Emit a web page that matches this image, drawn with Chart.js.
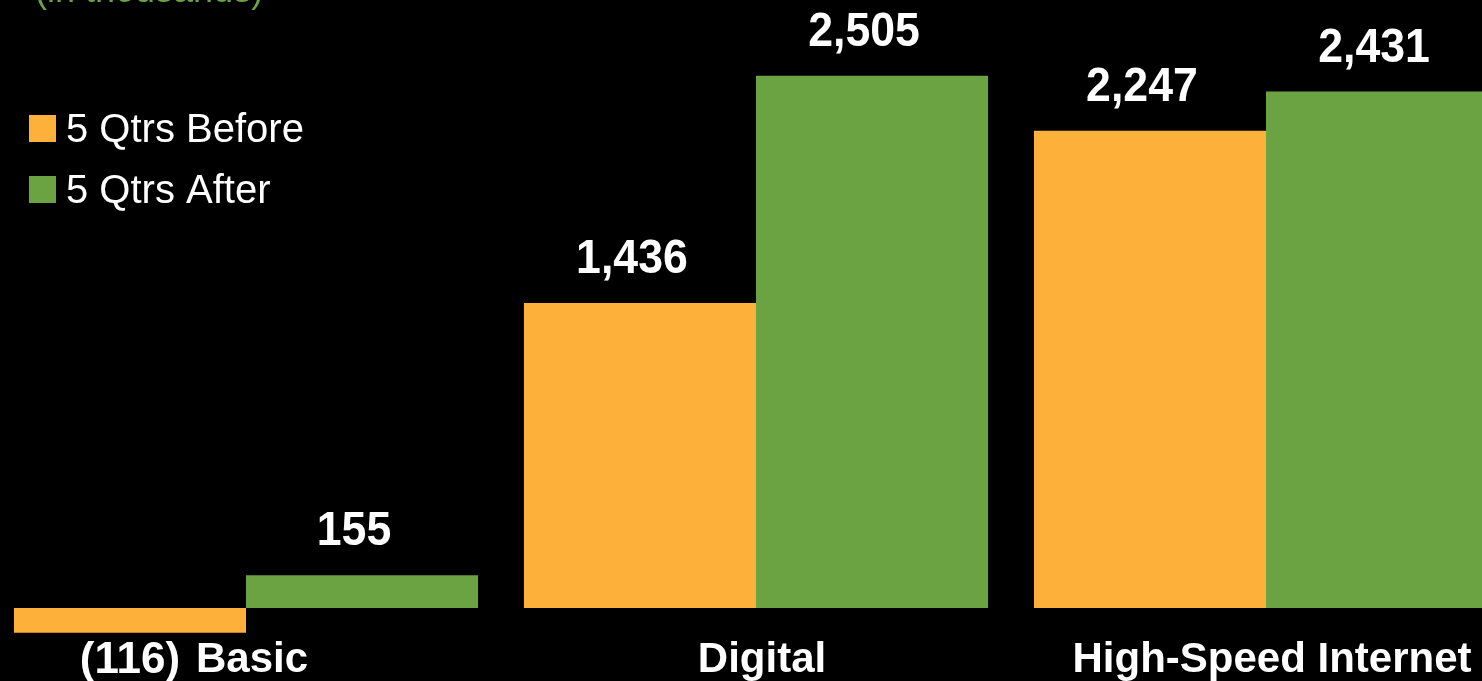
<!DOCTYPE html>
<html>
<head>
<meta charset="utf-8">
<script src="https://cdn.jsdelivr.net/npm/chart.js@4/dist/chart.umd.min.js"></script>
<style>
  html, body { margin: 0; padding: 0; background: #000; overflow: hidden; }
  body { width: 1482px; height: 681px; position: relative; }
  #chart { position: absolute; left: -9px; top: 0; background: #000; }
</style>
</head>
<body>
<canvas id="chart" width="1530" height="681"></canvas>
<script>
// Data (in thousands)
const categories = ['Basic', 'Digital', 'High-Speed Internet'];
const seriesNames = ['5 Qtrs Before', '5 Qtrs After'];
const beforeValues = [-116, 1436, 2247];
const afterValues = [155, 2505, 2431];
const unitNote = '(in thousands)';

const colors = { before: '#FDB03A', after: '#6BA342', text: '#FFFFFF', note: '#6BA342' };
const fontFamily = '"Liberation Sans", Arial, Helvetica, sans-serif';

const fmt = v => (v < 0 ? '(' + Math.abs(v).toLocaleString('en-US') + ')' : v.toLocaleString('en-US'));

// value labels above / below each bar
const valueLabels = {
  id: 'valueLabels',
  afterDatasetsDraw(chart) {
    const ctx = chart.ctx;
    ctx.save();
    ctx.fillStyle = colors.text;
    ctx.textAlign = 'center';
    ctx.textBaseline = 'alphabetic';
    chart.data.datasets.forEach((ds, di) => {
      chart.getDatasetMeta(di).data.forEach((bar, i) => {
        const v = ds.data[i];
        ctx.save();
        if (v < 0) {
          ctx.font = 'bold 44px ' + fontFamily;
          ctx.fillText(fmt(v), bar.x, bar.y + 40);
        } else {
          ctx.font = 'bold 48px ' + fontFamily;
          ctx.translate(bar.x - 8, bar.y - 30);
          ctx.scale(0.93, 1);
          ctx.fillText(fmt(v), 0, 0);
        }
        ctx.restore();
      });
    });
    ctx.restore();
  }
};

// legend in the upper-left corner plus the unit note
const cornerLegend = {
  id: 'cornerLegend',
  afterDraw(chart) {
    const ctx = chart.ctx;
    ctx.save();
    ctx.font = '36px ' + fontFamily;
    ctx.fillStyle = colors.note;
    ctx.textBaseline = 'alphabetic';
    ctx.fillText(unitNote, 44, 2);

    ctx.font = '40px ' + fontFamily;
    chart.data.datasets.forEach((ds, i) => {
      const top = 115 + i * 61;
      ctx.fillStyle = ds.backgroundColor;
      ctx.fillRect(38, top, 27, 27);
      ctx.fillStyle = colors.text;
      ctx.fillText(ds.label, 75, top + 27);
    });
    ctx.restore();
  }
};

new Chart(document.getElementById('chart'), {
  type: 'bar',
  data: {
    labels: categories,
    datasets: [
      { label: seriesNames[0], data: beforeValues, backgroundColor: colors.before, clip: false },
      { label: seriesNames[1], data: afterValues, backgroundColor: colors.after, clip: false }
    ]
  },
  options: {
    responsive: false,
    animation: false,
    categoryPercentage: 0.91,
    barPercentage: 1,
    layout: { padding: 0 },
    plugins: { legend: { display: false }, tooltip: { enabled: false } },
    scales: {
      x: {
        grid: { display: false, drawTicks: false },
        border: { display: false },
        ticks: {
          padding: -5,
          labelOffset: 6,
          color: colors.text,
          font: { family: fontFamily, size: 42, weight: 'bold' },
          maxRotation: 0,
          autoSkip: false
        }
      },
      y: { display: false, min: -153, max: 2862 }
    }
  },
  plugins: [valueLabels, cornerLegend]
});
</script>
</body>
</html>
